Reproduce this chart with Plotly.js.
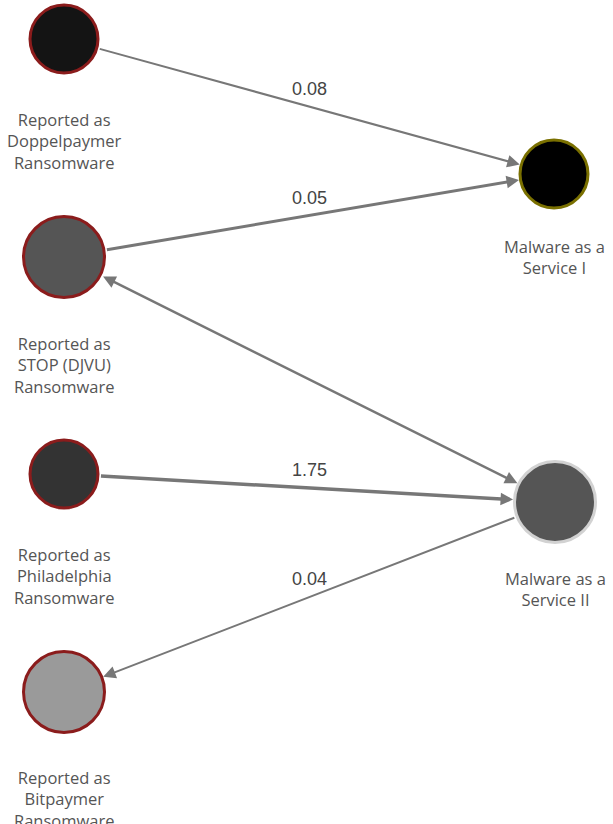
<!DOCTYPE html>
<html>
<head>
<meta charset="utf-8">
<script src="https://cdn.plot.ly/plotly-3.0.1.min.js"></script>
<style>html,body{margin:0;padding:0;background:#fff;}#chart{width:613px;height:824px;}</style>
</head>
<body>
<div id="chart"></div>
<script>
// ---- data ----
var nodeIds = ['doppel', 'stop', 'phil', 'bitpay', 'maas1', 'maas2'];
var nodeLabels = [
  'Reported as<br>Doppelpaymer<br>Ransomware',
  'Reported as<br>STOP (DJVU)<br>Ransomware',
  'Reported as<br>Philadelphia<br>Ransomware',
  'Reported as<br>Bitpaymer<br>Ransomware',
  'Malware as a<br>Service I',
  'Malware as a<br>Service II'
];
var edgeSource = ['doppel', 'stop', 'stop', 'phil', 'maas2'];
var edgeTarget = ['maas1', 'maas1', 'maas2', 'maas2', 'bitpay'];
var edgeWeight = ['0.08', '0.05', '', '1.75', '0.04'];
var edgeBoth = [false, false, true, false, false];

// ---- layout / style (pixel layout of the network) ----
var nodeX = [64, 64, 64, 64, 554, 555];
var nodeY = [39, 257, 474, 692, 174, 502];
var nodeSize = [68, 81, 68, 81, 68, 81];
var nodeFill = ['#141414', '#555555', '#333333', '#9a9a9a', '#000000', '#555555'];
var nodeBorder = ['#8b1c1c', '#8b1c1c', '#8b1c1c', '#8b1c1c', '#7a7000', '#d2d2d2'];
var labelGap = [31, 31, 31, 30, 23, 21];
var edgeWidth = [2, 3, 2.5, 3.5, 2];
var edgeColor = '#777777';
var headScale = 2.5;

var idx = {};
nodeIds.forEach(function (id, i) { idx[id] = i; });
function radius(i) { return nodeSize[i] / 2 + 1.5; }

var annotations = [];
// edges
for (var e = 0; e < edgeSource.length; e++) {
  var s = idx[edgeSource[e]], t = idx[edgeTarget[e]];
  annotations.push({
    x: nodeX[t], y: nodeY[t], ax: nodeX[s], ay: nodeY[s],
    xref: 'x', yref: 'y', axref: 'x', ayref: 'y',
    showarrow: true, text: '',
    arrowhead: 2, startarrowhead: 2,
    arrowside: edgeBoth[e] ? 'end+start' : 'end',
    arrowsize: headScale / edgeWidth[e], startarrowsize: headScale / edgeWidth[e],
    arrowwidth: edgeWidth[e], arrowcolor: edgeColor,
    standoff: radius(t), startstandoff: radius(s)
  });
  if (edgeWeight[e] !== '') {
    annotations.push({
      x: (nodeX[s] + nodeX[t]) / 2, y: (nodeY[s] + nodeY[t]) / 2,
      xref: 'x', yref: 'y', showarrow: false, text: edgeWeight[e],
      yshift: 18, xanchor: 'center', yanchor: 'middle',
      font: {family: 'Liberation Sans, Arial, sans-serif', size: 18, color: '#444'}
    });
  }
}
// node labels
for (var i = 0; i < nodeIds.length; i++) {
  annotations.push({
    x: nodeX[i], y: nodeY[i] + radius(i) + labelGap[i],
    xref: 'x', yref: 'y', showarrow: false, text: nodeLabels[i],
    xanchor: 'center', yanchor: 'top', align: 'center',
    font: {family: 'Open Sans, Noto Sans, sans-serif', size: 16.5, color: '#555'}
  });
}

var nodes = {
  type: 'scatter', mode: 'markers',
  x: nodeX, y: nodeY, hoverinfo: 'none',
  marker: {size: nodeSize, color: nodeFill, line: {color: nodeBorder, width: 3}, opacity: 1}
};

var layout = {
  width: 613, height: 824,
  margin: {l: 0, r: 0, t: 0, b: 0},
  paper_bgcolor: '#fff', plot_bgcolor: '#fff',
  showlegend: false,
  xaxis: {range: [0, 613], visible: false, fixedrange: true},
  yaxis: {range: [824, 0], visible: false, fixedrange: true},
  annotations: annotations
};

Plotly.newPlot('chart', [nodes], layout, {staticPlot: true});
</script>
</body>
</html>
